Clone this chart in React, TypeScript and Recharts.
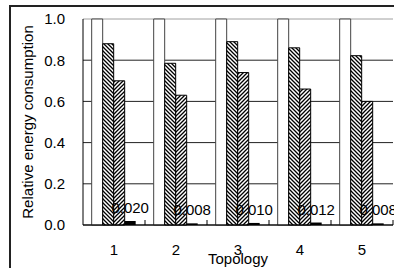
import React from 'react';
import { BarChart, Bar, XAxis, YAxis, CartesianGrid, LabelList, Label } from 'recharts';

const topologies = ['1', '2', '3', '4', '5'];
const baseline = [1.0, 1.0, 1.0, 1.0, 1.0];
const schemeA = [0.88, 0.785, 0.89, 0.86, 0.822];
const schemeB = [0.70, 0.63, 0.74, 0.66, 0.60];
const schemeC = [0.020, 0.008, 0.010, 0.012, 0.008];
const yTicks = [0, 0.2, 0.4, 0.6, 0.8, 1.0];

const data = topologies.map((t, i) => ({
  topology: t,
  baseline: baseline[i],
  schemeA: schemeA[i],
  schemeB: schemeB[i],
  schemeC: schemeC[i],
}));

const W = 394;
const H = 268;
const Y_AXIS_W = 83;
const PLOT_TOP = 19;
const X_AXIS_H = 43;
const RIGHT = 1;
const AXIS_Y = H - X_AXIS_H;
const BAND = (W - Y_AXIS_W - RIGHT) / topologies.length;
const FONT = '"Liberation Sans", Arial, sans-serif';

// category label plus the small inward tick at the band boundary
const TopologyTick = (props: any) => {
  const { x, payload } = props;
  return (
    <g>
      <text x={x} y={AXIS_Y + 30} textAnchor="middle" fontSize={15} fontFamily={FONT} fill="#000">
        {payload.value}
      </text>
      <line x1={x + BAND / 2} x2={x + BAND / 2} y1={AXIS_Y} y2={AXIS_Y - 5} stroke="#000" />
    </g>
  );
};

const gridLine = (props: any) => {
  const { x1, x2, y1, y2 } = props;
  const top = y1 < PLOT_TOP + 2;
  return (
    <line
      key={`g-${y1}`}
      x1={x1}
      x2={x2}
      y1={y1}
      y2={y2}
      stroke={top ? '#a0a0a0' : '#222'}
      strokeWidth={1}
    />
  );
};

const App = () => {
  return (
    <div style={{ position: 'absolute', left: 0, top: 0, width: W, height: H, overflow: 'hidden', background: '#fff' }}>
      <div
        style={{
          position: 'absolute',
          left: 9,
          top: 5,
          width: 500,
          height: 400,
          border: '2px solid #222',
        }}
      />
      <div style={{ position: 'absolute', left: 0, top: 0 }}>
        <BarChart
          width={W}
          height={H}
          data={data}
          margin={{ top: PLOT_TOP, right: RIGHT, bottom: 0, left: 0 }}
          barCategoryGap="14%"
          barGap={0}
        >
          <defs>
            <pattern id="hatchDown" width="4" height="4" patternUnits="userSpaceOnUse">
              <rect width="4" height="4" fill="#fff" />
              <path d="M-1,3 l2,2 M0,0 l4,4 M3,-1 l2,2" stroke="#000" strokeWidth={1.3} />
            </pattern>
            <pattern id="hatchUp" width="4" height="4" patternUnits="userSpaceOnUse">
              <rect width="4" height="4" fill="#fff" />
              <path d="M-1,1 l2,-2 M0,4 l4,-4 M3,5 l2,-2" stroke="#000" strokeWidth={1.3} />
            </pattern>
          </defs>
          <CartesianGrid vertical={false} horizontal={gridLine} />
          <XAxis
            dataKey="topology"
            height={X_AXIS_H}
            axisLine={{ stroke: '#000' }}
            tickLine={false}
            tick={<TopologyTick />}
            interval={0}
          >
            <Label
              value="Topology"
              position="insideBottom"
              offset={4}
              style={{ fontSize: 15, fontFamily: FONT, fill: '#000' }}
            />
          </XAxis>
          <YAxis
            width={Y_AXIS_W}
            domain={[0, 1]}
            ticks={yTicks}
            tickFormatter={(v: number) => v.toFixed(1)}
            axisLine={{ stroke: '#000' }}
            tickLine={false}
            tickSize={0}
            tickMargin={18}
            tick={{ fontSize: 15, fontFamily: FONT, fill: '#000' }}
          >
            <Label
              content={(p: any) => {
                const vb = p.viewBox || {};
                const cy = (vb.y ?? PLOT_TOP) + (vb.height ?? AXIS_Y - PLOT_TOP) / 2;
                return (
                  <text
                    transform={`translate(33,${cy}) rotate(-90)`}
                    textAnchor="middle"
                    fontSize={15}
                    fontFamily={FONT}
                    fill="#000"
                  >
                    Relative energy consumption
                  </text>
                );
              }}
            />
          </YAxis>
          <Bar dataKey="baseline" fill="#fff" stroke="#444" strokeWidth={1} isAnimationActive={false} />
          <Bar dataKey="schemeA" fill="url(#hatchDown)" stroke="#000" strokeWidth={1} isAnimationActive={false} />
          <Bar dataKey="schemeB" fill="url(#hatchUp)" stroke="#000" strokeWidth={1} isAnimationActive={false} />
          <Bar dataKey="schemeC" fill="#000" isAnimationActive={false}>
            <LabelList
              dataKey="schemeC"
              position="top"
              offset={8}
              formatter={(v: any) => Number(v).toFixed(3)}
              style={{ fontSize: 15, fontFamily: FONT, fill: '#000' }}
            />
          </Bar>
        </BarChart>
      </div>
    </div>
  );
};

export default App;
